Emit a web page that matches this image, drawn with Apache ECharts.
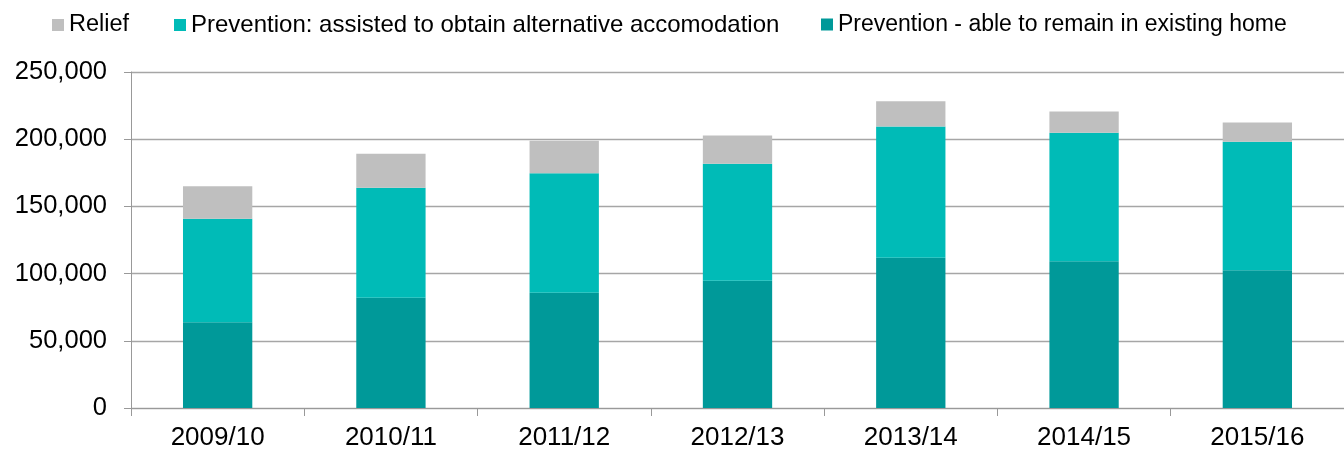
<!DOCTYPE html>
<html>
<head>
<meta charset="utf-8">
<script src="https://cdn.jsdelivr.net/npm/echarts@6/dist/echarts.min.js"></script>
<style>
  html, body { margin: 0; padding: 0; background: #fff; }
  #chart { width: 1344px; height: 453px; }
</style>
</head>
<body>
<div id="chart"></div>
<script>
const years = ['2009/10', '2010/11', '2011/12', '2012/13', '2013/14', '2014/15', '2015/16'];
const remainHome = [63800, 82000, 85700, 94600, 111800, 109200, 102500];
const alternativeAccom = [77000, 81800, 89000, 87100, 97700, 95600, 95600];
const relief = [24200, 25300, 24100, 21100, 18800, 15800, 14300];
const yTicks = [0, 50000, 100000, 150000, 200000, 250000];

const names = {
    relief: 'Relief',
    alt: 'Prevention: assisted to obtain alternative accomodation',
    remain: 'Prevention - able to remain in existing home'
};
const colors = { relief: '#bfbfbf', alt: '#00bbb7', remain: '#009999' };

const chart = echarts.init(document.getElementById('chart'));
const font = 'Arial, "Liberation Sans", sans-serif';

// one legend per item so each can sit where the original puts it
function legendAt(left, name, size) {
    return {
        top: 8,
        left: left,
        itemWidth: 12,
        itemHeight: 12,
        icon: 'rect',
        selectedMode: false,
        textStyle: { fontFamily: font, fontSize: size, color: '#000' },
        data: [name]
    };
}

const option = {
    animation: false,
    legend: [
        legendAt(47, names.relief, 23.5),
        legendAt(169, names.alt, 24),
        legendAt(816, names.remain, 23)
    ],
    grid: { left: 131, right: 0, top: 72, bottom: 45, containLabel: false },
    xAxis: {
        type: 'category',
        data: years,
        axisLine: { lineStyle: { color: '#999', width: 1 } },
        axisTick: { show: true, length: 8, lineStyle: { color: '#999' } },
        axisLabel: { fontFamily: font, fontSize: 26, color: '#000', margin: 17 }
    },
    yAxis: {
        type: 'value',
        min: yTicks[0],
        max: yTicks[yTicks.length - 1],
        interval: 50000,
        axisLine: { show: true, lineStyle: { color: '#999', width: 1 } },
        axisTick: { show: true, length: 7, lineStyle: { color: '#999' } },
        splitLine: { lineStyle: { color: '#a6a6a6', width: 1.3 } },
        axisLabel: {
            fontFamily: font, fontSize: 25.5, color: '#000', margin: 24,
            formatter: v => v.toLocaleString('en-GB')
        }
    },
    series: [
        {
            name: names.remain, type: 'bar', stack: 'total', data: remainHome,
            barWidth: '40%', itemStyle: { color: colors.remain }
        },
        {
            name: names.alt, type: 'bar', stack: 'total', data: alternativeAccom,
            barWidth: '40%', itemStyle: { color: colors.alt }
        },
        {
            name: names.relief, type: 'bar', stack: 'total', data: relief,
            barWidth: '40%', itemStyle: { color: colors.relief }
        }
    ]
};
chart.setOption(option);
</script>
</body>
</html>
